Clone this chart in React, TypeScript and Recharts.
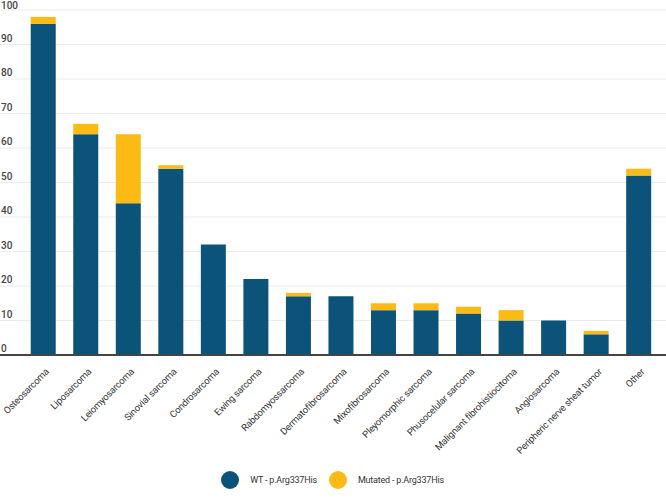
import React from "react";
import { BarChart, Bar, XAxis, YAxis, CartesianGrid, Legend } from "recharts";

const CATEGORIES = [
  "Osteosarcoma",
  "Liposarcoma",
  "Leiomyosarcoma",
  "Sinovial sarcoma",
  "Condrosarcoma",
  "Ewing sarcoma",
  "Rabdomyossarcoma",
  "Dermatofibrosarcoma",
  "Mixofibrosarcoma",
  "Pleyomorphic sarcoma",
  "Phusocelular sarcoma",
  "Malignant fibrohistiocitoma",
  "Angiosarcoma",
  "Peripheric nerve sheat tumor",
  "Other",
];
const WT = [96, 64, 44, 54, 32, 22, 17, 17, 13, 13, 12, 10, 10, 6, 52];
const MUTATED = [2, 3, 20, 1, 0, 0, 1, 0, 2, 2, 2, 3, 0, 1, 2];
const Y_TICKS = [0, 10, 20, 30, 40, 50, 60, 70, 80, 90, 100];

const BLUE = "#0b5379";
const YELLOW = "#fcbb14";
const FONT = "Roboto, 'Noto Sans', sans-serif";

const data = CATEGORIES.map((name, i) => ({ name, wt: WT[i], mutated: MUTATED[i] }));

function XTick(props: any) {
  const { x, y, payload } = props;
  const ax = x + 4;
  const ay = y + 7;
  return (
    <text
      x={ax}
      y={ay}
      transform={`rotate(-45 ${ax} ${ay})`}
      textAnchor="end"
      dy="0.35em"
      fontSize={9.5}
      letterSpacing={-0.2}
      fontFamily={FONT}
      fill="#333"
    >
      {payload.value}
    </text>
  );
}

function YTick(props: any) {
  const { y, payload } = props;
  return (
    <text x={1} y={Math.max(y - 3, 8.5)} fontSize={10} fontFamily={FONT} fontWeight={500} fill="#444">
      {payload.value}
    </text>
  );
}

function LegendContent() {
  const items = [
    { label: "WT - p.Arg337His", color: BLUE },
    { label: "Mutated - p.Arg337His", color: YELLOW },
  ];
  return (
    <div style={{ display: "flex", justifyContent: "center", alignItems: "center", height: 30, fontFamily: FONT, fontSize: 9, color: "#333", letterSpacing: "-0.2px" }}>
      {items.map((it) => (
        <div key={it.label} style={{ display: "flex", alignItems: "center", margin: "0 6px" }}>
          <span style={{ width: 18, height: 18, borderRadius: 9, background: it.color, display: "inline-block", marginRight: 11 }} />
          <span>{it.label}</span>
        </div>
      ))}
    </div>
  );
}

export default function App() {
  return (
    <div style={{ position: "absolute", left: 0, top: 0, width: 666, height: 500, background: "#fff" }}>
      <BarChart width={666} height={500} data={data} margin={{ top: 10, right: 0, bottom: 0, left: -1 }} barCategoryGap="20.5%">
        <CartesianGrid vertical={false} stroke="#ebebeb" />
        <XAxis
          dataKey="name"
          interval={0}
          height={115}
          padding={{ left: 22, right: 6 }}
          tickLine={false}
          axisLine={{ stroke: "#444", strokeWidth: 2 }}
          tick={<XTick />}
        />
        <YAxis width={1} domain={[0, 100]} ticks={Y_TICKS} interval={0} axisLine={false} tickLine={false} tick={<YTick />} />
        <Legend verticalAlign="bottom" height={30} content={<LegendContent />} wrapperStyle={{ bottom: 5 }} />
        <Bar dataKey="wt" stackId="a" fill={BLUE} isAnimationActive={false} />
        <Bar dataKey="mutated" stackId="a" fill={YELLOW} isAnimationActive={false} />
      </BarChart>
    </div>
  );
}
